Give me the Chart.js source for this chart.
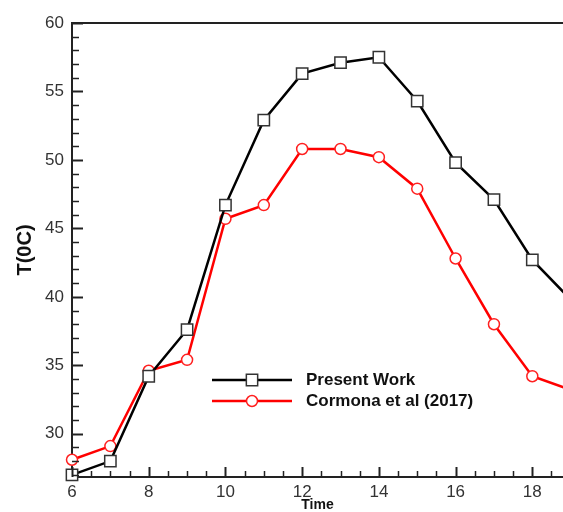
<!DOCTYPE html>
<html>
<head>
<meta charset="utf-8">
<script src="https://cdn.jsdelivr.net/npm/chart.js@4.4.1/dist/chart.umd.min.js"></script>
<style>
  body { margin: 0; background: #fff; }
  canvas { display: block; }
</style>
</head>
<body>
<canvas id="myCanvas" width="563" height="512"></canvas>
<script>
const hours = [6, 7, 8, 9, 10, 11, 12, 13, 14, 15, 16, 17, 18, 19];
const presentWork = [27.0, 28.0, 34.2, 37.6, 46.7, 52.9, 56.3, 57.1, 57.5, 54.3, 49.8, 47.1, 42.7, 39.8];
const cormona = [28.1, 29.1, 34.6, 35.4, 45.7, 46.7, 50.8, 50.8, 50.2, 47.9, 42.8, 38.0, 34.2, 33.2];
const xTicks = [6, 8, 10, 12, 14, 16, 18];
const yTicks = [30, 35, 40, 45, 50, 55, 60];

Chart.defaults.font.family = 'Arial, "Liberation Sans", sans-serif';

function toPoints(values) {
    return hours.map((h, i) => ({ x: h, y: values[i] }));
}

// inward tick marks + top frame line
const frameTicks = {
    id: 'frameTicks',
    afterDatasetsDraw(chart) {
        const ctx = chart.ctx;
        const area = chart.chartArea;
        const xs = chart.scales.x;
        const ys = chart.scales.y;
        ctx.save();
        ctx.strokeStyle = '#222';
        ctx.lineWidth = 2;
        ctx.beginPath();
        ctx.moveTo(area.left, area.top);
        ctx.lineTo(area.right, area.top);
        ctx.stroke();

        for (let v = 6; v <= xs.max; v += 0.5) {
            const major = v % 2 === 0;
            const px = Math.round(xs.getPixelForValue(v)) + 0.5;
            ctx.lineWidth = major ? 2 : 1.5;
            ctx.beginPath();
            ctx.moveTo(px, area.bottom);
            ctx.lineTo(px, area.bottom - (major ? 10 : 6));
            ctx.stroke();
        }
        for (let v = 27; v <= 60; v += 1) {
            const major = v % 5 === 0;
            const py = Math.round(ys.getPixelForValue(v)) + 0.5;
            ctx.lineWidth = major ? 2 : 1.5;
            ctx.beginPath();
            ctx.moveTo(area.left, py);
            ctx.lineTo(area.left + (major ? 11 : 7), py);
            ctx.stroke();
        }
        ctx.restore();
    }
};

// legend drawn inside the plot
const innerLegend = {
    id: 'innerLegend',
    afterDraw(chart) {
        const ctx = chart.ctx;
        const rows = [380, 401];
        ctx.save();
        chart.data.datasets.forEach((ds, i) => {
            const y = rows[i];
            ctx.strokeStyle = ds.borderColor;
            ctx.lineWidth = ds.borderWidth;
            ctx.beginPath();
            ctx.moveTo(212, y);
            ctx.lineTo(292, y);
            ctx.stroke();
            ctx.fillStyle = ds.pointBackgroundColor;
            ctx.strokeStyle = ds.pointBorderColor;
            ctx.lineWidth = ds.pointBorderWidth;
            Chart.helpers.drawPoint(ctx, {
                pointStyle: ds.pointStyle,
                radius: ds.pointRadius,
                borderWidth: ds.pointBorderWidth,
                rotation: 0
            }, 252, y);
            ctx.fillStyle = '#111';
            ctx.font = 'bold 17px Arial, "Liberation Sans", sans-serif';
            ctx.textBaseline = 'middle';
            ctx.textAlign = 'left';
            ctx.fillText(ds.label, 306, y);
        });
        ctx.restore();
    }
};

const myCanvas = document.getElementById('myCanvas').getContext('2d');

window.myChart = new Chart(myCanvas, {
    type: 'line',
    data: {
        datasets: [{
            label: 'Present Work',
            data: toPoints(presentWork),
            borderColor: '#000',
            borderWidth: 2.5,
            pointStyle: 'rect',
            pointRadius: 8,
            pointBorderWidth: 1.5,
            pointBorderColor: '#333',
            pointBackgroundColor: '#fff',
            clip: { left: false, top: false, bottom: false, right: 0 }
        }, {
            label: 'Cormona et al (2017)',
            data: toPoints(cormona),
            borderColor: '#ff0000',
            borderWidth: 2.5,
            pointStyle: 'circle',
            pointRadius: 5.5,
            pointBorderWidth: 1.5,
            pointBorderColor: '#ff2020',
            pointBackgroundColor: '#fff',
            clip: { left: false, top: false, bottom: false, right: 0 }
        }]
    },
    options: {
        responsive: false,
        animation: false,
        devicePixelRatio: 1,
        layout: { autoPadding: false, padding: { top: 23, right: 0, left: 0, bottom: 0 } },
        plugins: {
            legend: { display: false },
            tooltip: { enabled: false }
        },
        scales: {
            x: {
                type: 'linear',
                min: 6,
                max: 18.8,
                afterBuildTicks: scale => { scale.ticks = xTicks.map(v => ({ value: v })); },
                afterFit: scale => {
                    scale.height = 35;
                    scale.paddingLeft = 0;
                    scale.paddingRight = 0;
                },
                grid: { display: false, drawTicks: false },
                border: { display: true, color: '#222', width: 2 },
                ticks: {
                    color: '#333',
                    font: { size: 17 },
                    padding: 5,
                    autoSkip: false,
                    maxRotation: 0
                },
                title: {
                    display: true,
                    text: 'Time',
                    color: '#111',
                    font: { size: 14, weight: 'bold', lineHeight: 1 },
                    padding: { top: 0, bottom: 0 }
                }
            },
            y: {
                min: 26.84,
                max: 60,
                afterBuildTicks: scale => { scale.ticks = yTicks.map(v => ({ value: v })); },
                afterFit: scale => { scale.width = 72; },
                grid: { display: false, drawTicks: false },
                border: { display: true, color: '#222', width: 2 },
                ticks: {
                    color: '#333',
                    font: { size: 17 },
                    padding: 8
                },
                title: {
                    display: true,
                    text: 'T(0C)',
                    color: '#111',
                    font: { size: 20, weight: 'bold' },
                    padding: { top: 13, bottom: 0 }
                }
            }
        }
    },
    plugins: [frameTicks, innerLegend]
});
</script>
</body>
</html>
